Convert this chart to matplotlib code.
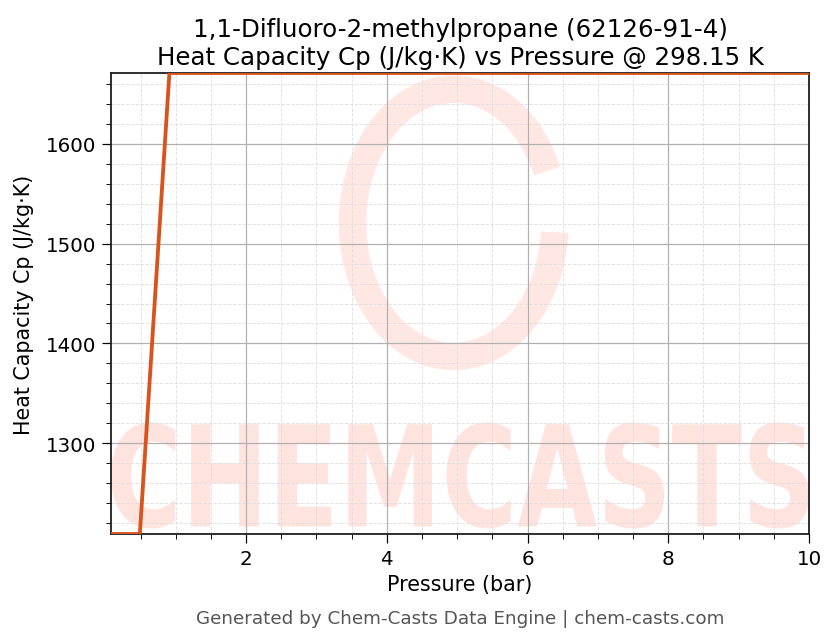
import numpy as np
import matplotlib
matplotlib.use('Agg')
import matplotlib.pyplot as plt
from matplotlib.patches import Arc, PathPatch
from matplotlib.textpath import TextPath
from matplotlib.font_manager import FontProperties
from matplotlib.transforms import Affine2D
from matplotlib.ticker import MultipleLocator

# pressure (bar) vs Cp (J/kg·K)
pressure = [0.08, 0.49, 0.91, 10.0]
cp = [1209.0, 1209.0, 1671.0, 1671.0]

title = "1,1-Difluoro-2-methylpropane (62126-91-4)\nHeat Capacity Cp (J/kg·K) vs Pressure @ 298.15 K"
footer = "Generated by Chem-Casts Data Engine | chem-casts.com"

fig = plt.figure(figsize=(7.6, 5.8545), dpi=110)
ax = fig.add_axes([111 / 836, 1 - 535 / 644, (809 - 111) / 836, (535 - 74) / 644])

# watermark: word stretched to fill the bottom band, plus the ring logo
tp = TextPath((0, 0), "CHEMCASTS", size=1, prop=FontProperties(family='DejaVu Sans', weight='bold'))
ext = tp.get_extents()
fit = (Affine2D().translate(-ext.x0, -ext.y0)
       .scale(1.0 / ext.width, 0.23 / ext.height).translate(0, 0.012))
ax.add_patch(PathPatch(fit.transform_path(tp), transform=ax.transAxes,
                       fc='#ffe3df', ec='none', zorder=0))
ax.add_patch(Arc((0.491, 0.675), 0.29, 0.58, transform=ax.transAxes, theta1=40, theta2=352,
                 color='#ffe8e4', lw=18, zorder=0))

ax.plot(pressure, cp, color='#d9531e', lw=2.5, zorder=3)

ax.set_xlim(min(pressure), max(pressure))
ax.set_ylim(min(cp), max(cp))
ax.xaxis.set_major_locator(MultipleLocator(2))
ax.xaxis.set_minor_locator(MultipleLocator(0.5))
ax.yaxis.set_major_locator(MultipleLocator(100))
ax.yaxis.set_minor_locator(MultipleLocator(20))
ax.grid(which='major', color='#b0b0b0', lw=0.8)
ax.grid(which='minor', color='#e0e0e0', lw=0.6, ls='--')
ax.tick_params(which='major', labelsize=13, length=6)
ax.tick_params(which='minor', length=3.5)
for s in ax.spines.values():
    s.set_linewidth(1.2)
    s.set_color('#222222')

ax.set_xlabel("Pressure (bar)", fontsize=13.5)
ax.set_ylabel("Heat Capacity Cp (J/kg·K)", fontsize=13.5, labelpad=8)
ax.set_title(title, fontsize=16, pad=6)
fig.text(460 / 836, 1 - 619 / 644, footer, ha='center', va='center', fontsize=12, color='#555555')

plt.savefig('out.png', dpi=110)
